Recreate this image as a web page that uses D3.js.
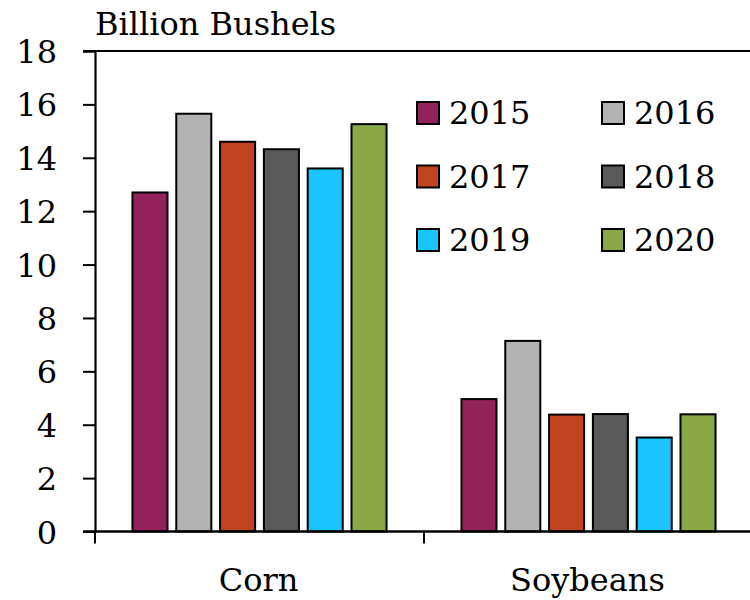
<!DOCTYPE html>
<html>
<head>
<meta charset="utf-8">
<script src="https://cdn.jsdelivr.net/npm/d3@7"></script>
<style>
  html, body { margin: 0; padding: 0; background: #fff; }
  svg { display: block; }
</style>
</head>
<body>
<svg id="chart" width="750" height="600"></svg>
<script>
const categories = ["Corn", "Soybeans"];
const years = ["2015", "2016", "2017", "2018", "2019", "2020"];
const colors = ["#93215A", "#B2B2B2", "#C0441E", "#595959", "#1AC4FF", "#87A845"];
const cornValues = [12.7, 15.65, 14.6, 14.32, 13.6, 15.26];
const soybeanValues = [4.96, 7.14, 4.38, 4.4, 3.52, 4.39];
const yTicks = [0, 2, 4, 6, 8, 10, 12, 14, 16, 18];
const yTitle = "Billion Bushels";

const FONT = "DejaVu Serif";
const seriesByCategory = [cornValues, soybeanValues];
const data = [];
categories.forEach((c, ci) => years.forEach((yr, yi) => data.push({cat: c, year: yr, value: seriesByCategory[ci][yi]})));

const svg = d3.select("#chart");
const mLeft = 95, mRight = 753, mTop = 51, mBottom = 531.5;

const x0 = d3.scaleBand().domain(categories).range([mLeft, mRight]).paddingInner(0).paddingOuter(0);
const x1 = d3.scaleBand().domain(years).range([0, x0.bandwidth()]).paddingOuter(0.855).paddingInner(0.2);
const y = d3.scaleLinear().domain([0, 18]).range([mBottom, mTop]);

svg.append("line").attr("x1", 83).attr("x2", 750).attr("y1", y(18)).attr("y2", y(18))
  .attr("stroke", "#000").attr("stroke-width", 2);

const g = svg.append("g");
g.selectAll("rect.bar").data(data).join("rect")
  .attr("class", "bar")
  .attr("x", d => x0(d.cat) + x1(d.year))
  .attr("y", d => y(d.value))
  .attr("width", x1.bandwidth())
  .attr("height", d => y(0) - y(d.value))
  .attr("fill", d => colors[years.indexOf(d.year)])
  .attr("stroke", "#000").attr("stroke-width", 2);

const yAxis = d3.axisLeft(y).tickValues(yTicks).tickSize(12).tickPadding(26).tickFormat(d3.format("d"));
const ya = svg.append("g").attr("transform", `translate(${mLeft},0)`).call(yAxis)
  .attr("font-family", FONT).attr("font-size", 32);
ya.select(".domain").attr("stroke", "#000").attr("stroke-width", 2.2);
ya.selectAll(".tick line").attr("stroke", "#000").attr("stroke-width", 2);
ya.selectAll(".tick text").attr("fill", "#000").attr("dy", "0.36em");

svg.append("line").attr("x1", 83).attr("x2", 750).attr("y1", y(0)).attr("y2", y(0))
  .attr("stroke", "#000").attr("stroke-width", 2.4);
const sepTicks = categories.map(c => x0(c));
svg.selectAll("line.sep").data(sepTicks).join("line").attr("class", "sep")
  .attr("x1", d => d).attr("x2", d => d).attr("y1", y(0)).attr("y2", y(0) + 12)
  .attr("stroke", "#000").attr("stroke-width", 2);

svg.selectAll("text.cat").data(categories).join("text").attr("class", "cat")
  .attr("x", d => x0(d) + x0.bandwidth() / 2 - 1)
  .attr("y", 591)
  .attr("text-anchor", "middle")
  .attr("font-family", FONT)
  .attr("font-size", 32)
  .text(d => d);

svg.append("text").attr("x", 95).attr("y", 35).attr("font-family", FONT).attr("font-size", 32).text(yTitle);

const legend = svg.append("g");
years.forEach((yr, i) => {
  const col = i % 2, row = Math.floor(i / 2);
  const lx = 417 + col * 185, ly = 102 + row * 63.5;
  legend.append("rect").attr("x", lx).attr("y", ly).attr("width", 22).attr("height", 22)
    .attr("fill", colors[i]).attr("stroke", "#000").attr("stroke-width", 2);
  legend.append("text").attr("x", lx + 32).attr("y", ly + 22).attr("font-family", FONT).attr("font-size", 32).text(yr);
});
</script>
</body>
</html>
